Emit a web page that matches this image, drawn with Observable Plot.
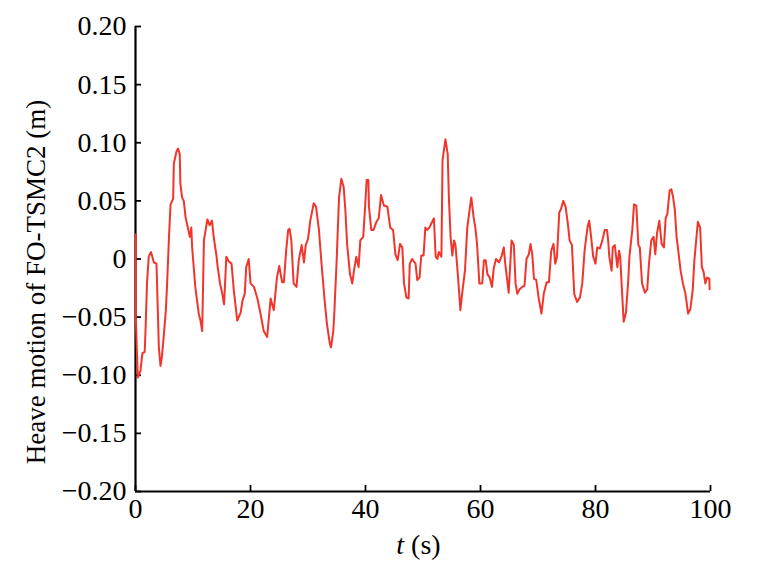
<!DOCTYPE html>
<html>
<head>
<meta charset="utf-8">
<script src="https://cdn.jsdelivr.net/npm/d3@7"></script>
<script src="https://cdn.jsdelivr.net/npm/@observablehq/plot@0.6"></script>
<style>
  html, body { margin: 0; padding: 0; background: #fff; }
  #chart svg { display: block; }
</style>
</head>
<body>
<div id="chart"></div>
<script>
// Time (s)
const time = [
  0, 0.05, 0.4, 0.87, 1.2, 1.6, 1.74, 2.0, 2.3, 2.7, 3.2, 3.65, 4.06, 4.35, 4.6, 4.9, 5.28, 5.5, 5.85, 6.1,
  6.55, 6.67, 7.1, 7.4, 7.7, 7.8, 8.1, 8.4, 8.7, 9.1, 9.45, 9.7, 9.85, 10.4, 11.0, 11.3, 11.6, 11.9, 12.5, 12.9,
  13.3, 13.6, 14.1, 14.3, 14.7, 15.1, 15.4, 15.8, 16.2, 16.7, 17.1, 17.7, 18.3, 18.6, 19.0, 19.25, 19.7, 20.0, 20.6, 21.2,
  21.7, 22.3, 22.9, 23.5, 24.05, 24.6, 25.0, 25.5, 25.8, 26.2, 26.55, 26.8, 27.1, 27.5, 28.0, 28.4, 28.9, 29.3, 29.6, 30.0,
  30.4, 31.0, 31.4, 31.9, 32.35, 32.9, 33.3, 33.8, 34.0, 34.4, 34.6, 34.96, 35.4, 35.8, 36.2, 36.5, 36.8, 37.3, 37.7, 38.0,
  38.4, 38.8, 39.1, 39.6, 39.9, 40.2, 40.5, 40.6, 41.0, 41.4, 41.9, 42.3, 42.7, 43.2, 43.8, 44.3, 44.8, 45.2, 45.6, 46.0,
  46.4, 46.7, 47.1, 47.5, 47.7, 48.1, 48.7, 49.0, 49.4, 49.7, 50.1, 50.4, 50.7, 51.1, 51.6, 51.9, 52.2, 52.5, 52.75, 53.2,
  53.4, 53.9, 54.3, 54.5, 54.8, 55.1, 55.4, 55.65, 56.1, 56.5, 56.8, 57.3, 57.7, 58.1, 58.4, 58.8, 59.1, 59.4, 59.8, 60.3,
  60.6, 60.9, 61.2, 61.6, 62.0, 62.3, 62.7, 63.2, 63.65, 64.05, 64.3, 64.9, 65.4, 65.8, 66.1, 66.4, 66.8, 67.25, 67.65, 68.0,
  68.4, 68.7, 69.0, 69.3, 69.7, 70.1, 70.6, 71.0, 71.5, 71.9, 72.3, 72.7, 73.0, 73.3, 73.7, 74.0, 74.4, 74.8, 75.2, 75.5,
  75.9, 76.3, 76.8, 77.3, 77.7, 78.1, 78.6, 78.9, 79.1, 79.6, 80.0, 80.3, 80.75, 81.2, 81.6, 82.0, 82.2, 82.4, 82.8, 83.0,
  83.35, 83.8, 84.1, 84.3, 84.6, 84.9, 85.3, 85.7, 85.9, 86.4, 86.7, 87.1, 87.45, 87.7, 88.1, 88.6, 89.0, 89.3, 89.7, 90.1,
  90.4, 90.7, 91.1, 91.5, 91.9, 92.2, 92.5, 92.9, 93.2, 93.5, 93.8, 94.1, 94.4, 94.8, 95.2, 95.65, 96.1, 96.5, 96.9, 97.2,
  97.4, 97.8, 98.2, 98.5, 98.8, 99.1, 99.4, 99.8, 99.85
];
// Heave motion of FO-TSMC2 (m)
const heave = [
  0.021, -0.050, -0.102, -0.096, -0.081, -0.080, -0.062, -0.021, 0.002, 0.006, -0.003, -0.004, -0.076, -0.092, -0.084, -0.067, -0.044, -0.021, 0.022, 0.047,
  0.052, 0.082, 0.092, 0.095, 0.090, 0.065, 0.053, 0.050, 0.036, 0.027, 0.019, 0.027, 0.010, -0.024, -0.047, -0.053, -0.062, 0.016, 0.034, 0.029,
  0.033, 0.019, 0.002, -0.007, -0.021, -0.030, -0.039, 0.002, -0.002, -0.004, -0.027, -0.053, -0.046, -0.036, -0.030, -0.007, 0.000, -0.021, -0.024, -0.034,
  -0.046, -0.062, -0.067, -0.034, -0.044, -0.016, -0.006, -0.020, -0.020, 0.007, 0.025, 0.026, 0.016, -0.021, -0.024, -0.001, 0.012, -0.003, 0.012, 0.017,
  0.033, 0.048, 0.045, 0.025, -0.004, -0.036, -0.056, -0.073, -0.076, -0.062, -0.044, -0.004, 0.053, 0.069, 0.062, 0.042, 0.013, -0.013, -0.021, -0.010,
  0.002, -0.007, 0.016, 0.019, 0.042, 0.068, 0.068, 0.045, 0.025, 0.025, 0.032, 0.035, 0.055, 0.046, 0.045, 0.027, 0.025, 0.004, -0.001, 0.013,
  0.010, -0.021, -0.033, -0.034, -0.004, 0.000, -0.004, -0.018, -0.016, 0.003, 0.003, 0.027, 0.025, 0.027, 0.032, 0.035, 0.002, 0.000, 0.006, 0.002,
  0.085, 0.103, 0.090, 0.053, 0.019, 0.003, 0.016, 0.012, -0.016, -0.044, -0.030, -0.010, 0.027, 0.042, 0.053, 0.036, 0.027, 0.013, -0.021, -0.021,
  -0.001, -0.001, -0.013, -0.016, -0.024, -0.008, 0.000, -0.003, 0.002, 0.010, -0.004, -0.029, 0.016, 0.012, -0.021, -0.030, -0.026, -0.024, -0.023, 0.000,
  0.004, 0.013, 0.004, -0.017, -0.018, -0.033, -0.047, -0.030, -0.020, -0.020, 0.007, 0.013, -0.004, 0.002, 0.040, 0.043, 0.050, 0.045, 0.030, 0.016,
  0.012, -0.030, -0.037, -0.033, -0.021, 0.007, 0.027, 0.033, 0.025, 0.002, -0.004, 0.010, 0.009, 0.016, 0.025, 0.025, 0.016, 0.002, -0.010, 0.010,
  0.012, -0.007, 0.007, 0.002, -0.027, -0.054, -0.046, -0.018, 0.002, 0.025, 0.047, 0.046, 0.012, 0.010, -0.021, -0.029, -0.026, -0.004, 0.016, 0.019,
  0.004, 0.022, 0.033, 0.013, 0.010, 0.035, 0.039, 0.059, 0.060, 0.053, 0.042, 0.019, 0.007, -0.010, -0.021, -0.030, -0.047, -0.043, -0.027, -0.001,
  0.010, 0.032, 0.027, -0.007, -0.011, -0.021, -0.016, -0.017, -0.026
];
const xTicks = [0, 20, 40, 60, 80, 100];
const yTicks = [-0.20, -0.15, -0.10, -0.05, 0, 0.05, 0.10, 0.15, 0.20];
const yTickLabels = ["\u22120.20", "\u22120.15", "\u22120.10", "\u22120.05", "0", "0.05", "0.10", "0.15", "0.20"];
const xLabelItalic = "t";
const xLabelRest = " (s)";
const yLabel = "Heave motion of FO-TSMC2 (m)";

const data = time.map((t, i) => ({t, v: heave[i]}));
const FONT = "'Liberation Serif', 'Times New Roman', serif";
const FS = 28;
const W = 766, H = 573, ML = 135, MR = 56, MT = 26, MB = 82;
const plotW = W - ML - MR, plotH = H - MT - MB;
const TICK = 6; // tick length in px
const xDom = [0, 100], yDom = [-0.2, 0.2];
// tick length converted to data units via the scale extents
const tickDX = TICK * (xDom[1] - xDom[0]) / plotW;
const tickDY = TICK * (yDom[1] - yDom[0]) / plotH;

const plot = Plot.plot({
  width: W,
  height: H,
  marginLeft: ML,
  marginRight: MR,
  marginTop: MT,
  marginBottom: MB,
  style: {fontFamily: FONT, fontSize: FS + "px", color: "#000", background: "#fff"},
  x: {domain: xDom},
  y: {domain: yDom},
  marks: [
    // tick labels
    Plot.axisX({ticks: xTicks, tickSize: 0, tickPadding: 7, label: null, fontSize: FS}),
    Plot.axisY({ticks: yTicks, tickSize: 0, tickPadding: 9, label: null, fontSize: FS,
      tickFormat: (d) => yTickLabels[yTicks.findIndex(v => Math.abs(v - d) < 1e-9)]}),
    // inward ticks
    Plot.ruleY(yTicks, {y: (d) => d, x1: xDom[0], x2: xDom[0] + tickDX, stroke: "#000", strokeWidth: 1.8}),
    Plot.ruleX(xTicks, {x: (d) => d, y1: yDom[0], y2: yDom[0] + tickDY, stroke: "#000", strokeWidth: 1.8}),
    Plot.ruleX([xDom[0]], {stroke: "#000", strokeWidth: 2.2}),
    Plot.ruleY([yDom[0]], {stroke: "#000", strokeWidth: 2.2}),
    Plot.line(data, {x: "t", y: "v", stroke: "#f2352b", strokeWidth: 2, strokeLinejoin: "round"})
  ]
});

const svg = d3.select(plot);
const xs = plot.scale("x");
const cx = (xs.range[0] + xs.range[1]) / 2;
const xl = svg.append("text")
  .attr("x", cx - 4).attr("y", 554)
  .attr("text-anchor", "middle")
  .style("font-family", FONT).style("font-size", FS + "px").attr("fill", "#000");
xl.append("tspan").attr("font-style", "italic").text(xLabelItalic);
xl.append("tspan").text(xLabelRest);

svg.append("text")
  .attr("transform", "translate(45,282) rotate(-90)")
  .attr("text-anchor", "middle")
  .style("font-family", FONT).style("font-size", "27px").attr("fill", "#000")
  .text(yLabel);

document.getElementById("chart").appendChild(plot);
</script>
</body>
</html>
